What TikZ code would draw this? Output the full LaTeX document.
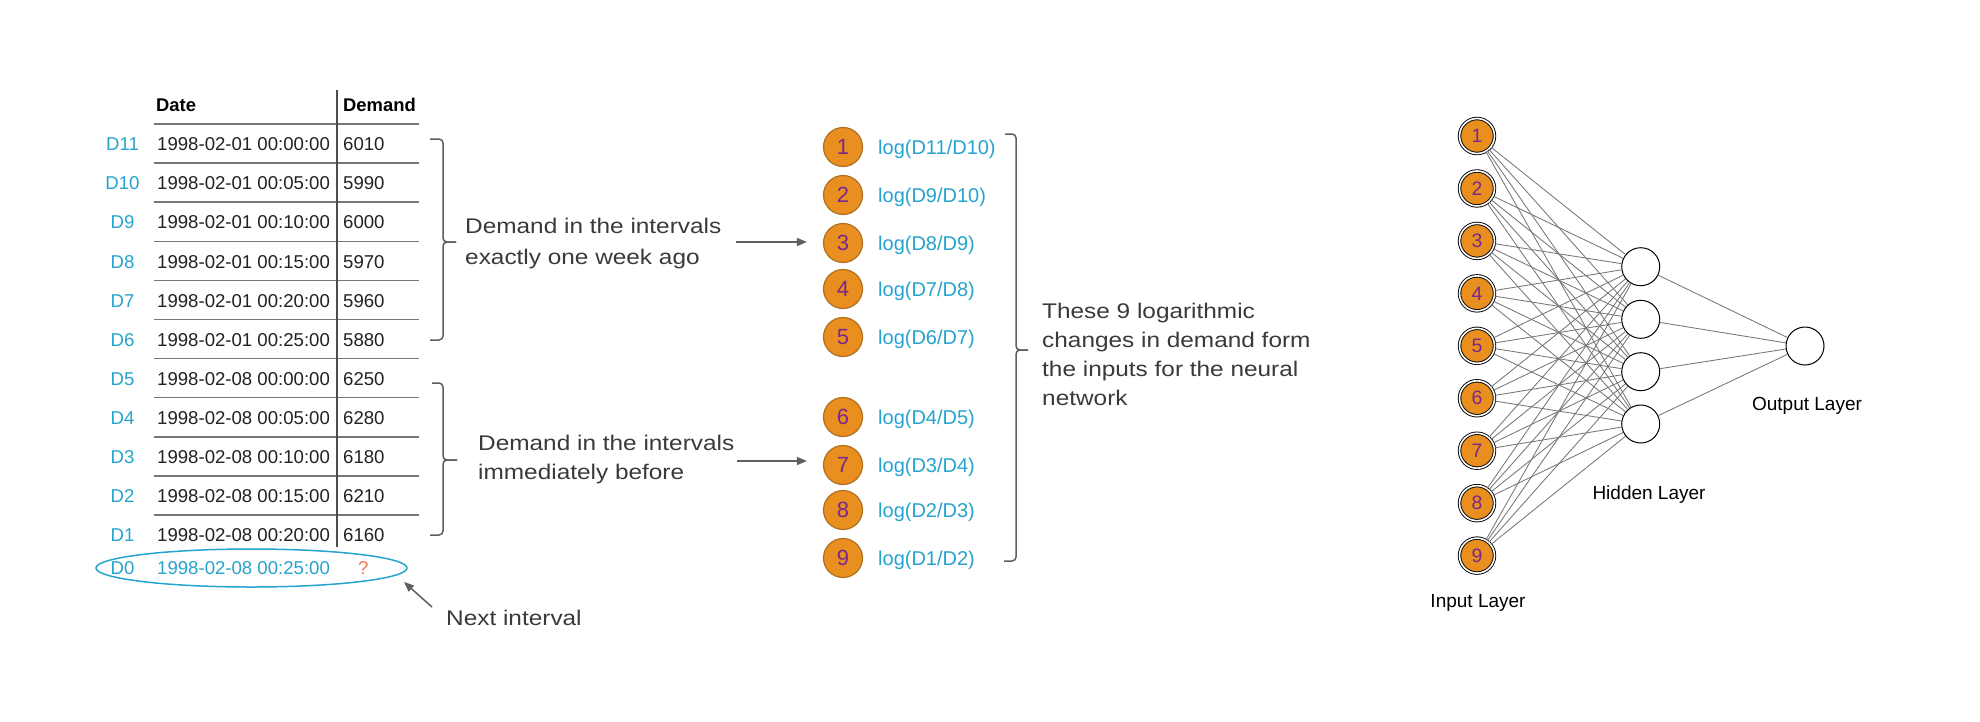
\documentclass[tikz,border=0pt]{standalone}
\usepackage{fontspec}
\setmainfont{Liberation Sans}
\newfontfamily\descfont[FakeStretch=1.15]{Liberation Sans}
\usetikzlibrary{arrows.meta,shapes.geometric}
\definecolor{cy}{RGB}{38,164,206}
\definecolor{org}{RGB}{232,143,31}
\definecolor{orgdark}{RGB}{176,112,30}
\definecolor{purp}{RGB}{122,40,140}
\definecolor{qcol}{RGB}{230,120,80}
\definecolor{txt}{RGB}{34,34,34}
\definecolor{desc}{RGB}{58,58,58}
\definecolor{ln}{RGB}{95,95,95}
\tikzset{
  tabtxt/.style={inner sep=0pt, anchor=base west, text=txt, font=\fontsize{18.6}{22}\selectfont},
  hdr/.style={inner sep=0pt, anchor=base west, text=black, font=\bfseries\fontsize{18.4}{22}\selectfont},
  dlab/.style={inner sep=0pt, anchor=base, text=cy, font=\fontsize{18.6}{22}\selectfont},
  desctxt/.style={inner sep=0pt, anchor=base west, text=desc, font=\descfont\fontsize{21.2}{26}\selectfont},
  loglab/.style={inner sep=0pt, anchor=base west, text=cy, font=\fontsize{20}{24}\selectfont},
  logc/.style={circle, inner sep=0pt, minimum size=39pt, fill=org, draw=orgdark, line width=1.2pt, text=purp, font=\fontsize{22}{24}\selectfont},
  inc/.style={circle, inner sep=0pt, minimum size=35pt, fill=org, draw=black, line width=0.9pt, double=white, double distance=1.6pt, text=purp, font=\fontsize{19.5}{20}\selectfont},
  hidc/.style={circle, inner sep=0pt, minimum size=38pt, fill=white, draw=black, line width=1pt},
  nnlab/.style={inner sep=0pt, anchor=base, text=black, font=\fontsize{19}{22}\selectfont},
  tabline/.style={draw=ln!85, line width=1.5pt},
  brace/.style={draw=ln, line width=1.5pt, rounded corners=4pt},
  arr/.style={draw=ln, line width=1.5pt, -{Triangle[length=10pt,width=8pt]}},
  edge/.style={draw=ln!85, line width=0.85pt},
}
\begin{document}
\begin{tikzpicture}[x=1pt,y=-1pt]
\useasboundingbox (0,0) rectangle (1980,721);
\fill[white] (0,0) rectangle (1980,721);

% ---------- table ----------
\node[hdr] (hdate) at (156,111.5) {Date};
\node[hdr] (hdem) at (343,111.5) {Demand};
\foreach \i in {0,...,10} {
  \draw[tabline] (154,124+39.1*\i) -- (419,124+39.1*\i);
}
\draw[draw=ln!80!black, line width=1.5pt] (337,90) -- (337,547);
\foreach \lab/\dt/\dem [count=\i from 0] in {
  D11/1998-02-01 00:00:00/6010,
  D10/1998-02-01 00:05:00/5990,
  D9/1998-02-01 00:10:00/6000,
  D8/1998-02-01 00:15:00/5970,
  D7/1998-02-01 00:20:00/5960,
  D6/1998-02-01 00:25:00/5880,
  D5/1998-02-08 00:00:00/6250,
  D4/1998-02-08 00:05:00/6280,
  D3/1998-02-08 00:10:00/6180,
  D2/1998-02-08 00:15:00/6210,
  D1/1998-02-08 00:20:00/6160} {
  \node[dlab] (lab\i) at (122.5,150.7+39.1*\i) {\lab};
  \node[tabtxt] (date\i) at (157,150.7+39.1*\i) {\dt};
  \node[tabtxt] (dem\i) at (343,150.7+39.1*\i) {\dem};
}
% next interval row
\node[draw=cy, line width=1.5pt, ellipse, minimum width=311pt, minimum height=38pt, inner sep=0pt] (e0) at (251.5,568) {};
\node[dlab] (lab11) at (122.5,574.2) {D0};
\node[tabtxt, text=cy] (date11) at (157,574.2) {1998-02-08 00:25:00};
\node[tabtxt, text=qcol] (dem11) at (358,574.2) {?};
\node[desctxt] (next) at (446,625) {Next interval};
\coordinate (nexttail) at (432,607);
\coordinate (nexttip) at (404,582);
\draw[arr] (nexttail) -- (nexttip);

% ---------- braces ----------
\draw[brace] (430,139) -| (443,242) -- (456,242);
\draw[brace] (456,242) -- (443,242) |- (430,340);
\draw[brace] (432,383) -| (443,460) -- (457,460);
\draw[brace] (457,460) -- (443,460) |- (430,535);
\draw[brace] (1005,134) -| (1016,350) -- (1028,350);
\draw[brace] (1028,350) -- (1016,350) |- (1004,561);

% ---------- descriptive texts ----------
\node[desctxt] (t1a) at (465,233) {Demand in the intervals};
\node[desctxt] (t1b) at (465,264) {exactly one week ago};
\node[desctxt] (t2a) at (478,450.7) {Demand in the intervals};
\node[desctxt] (t2b) at (478,479.5) {immediately before};
\node[desctxt] (t3a) at (1042,318) {These 9 logarithmic};
\node[desctxt] (t3b) at (1042,347) {changes in demand form};
\node[desctxt] (t3c) at (1042,376) {the inputs for the neural};
\node[desctxt] (t3d) at (1042,405) {network};

% ---------- log inputs ----------
\foreach \y/\txt [count=\k] in {147/{log(D11/D10)}, 195/{log(D9/D10)}, 243/{log(D8/D9)}, 289/{log(D7/D8)}, 337/{log(D6/D7)}, 417/{log(D4/D5)}, 465/{log(D3/D4)}, 510/{log(D2/D3)}, 558/{log(D1/D2)}} {
  \node[logc] (c\k) at (843,\y) {\k};
  \node[loglab] (l\k) at (878,\y+7.2) {\txt};
}
\coordinate (a1s) at (736,242);
\coordinate (a2s) at (737,461);
\draw[arr] (a1s) -- ([xshift=-16pt]c3.west |- a1s);
\draw[arr] (a2s) -- ([xshift=-16pt]c7.west |- a2s);

% ---------- neural network ----------
\foreach \k in {1,...,9} {
  \node[inc] (i\k) at (1477,136+52.45*\k-52.45) {\k};
}
\foreach \j/\y in {1/266.7, 2/319.3, 3/371.7, 4/424} {
  \node[hidc] (h\j) at (1640.7,\y) {};
}
\node[hidc] (o) at (1805,346) {};
\foreach \k in {1,...,9} {
  \foreach \j in {1,...,4} {
    \draw[edge] (i\k) -- (h\j);
  }
}
\foreach \j in {1,...,4} {
  \draw[edge] (h\j) -- (o);
}
\node[nnlab] (inlab) at (1478,607) {Input Layer};
\node[nnlab] (hidlab) at (1649,499) {Hidden Layer};
\node[nnlab] (outlab) at (1807,410) {Output Layer};
\end{tikzpicture}
\end{document}
